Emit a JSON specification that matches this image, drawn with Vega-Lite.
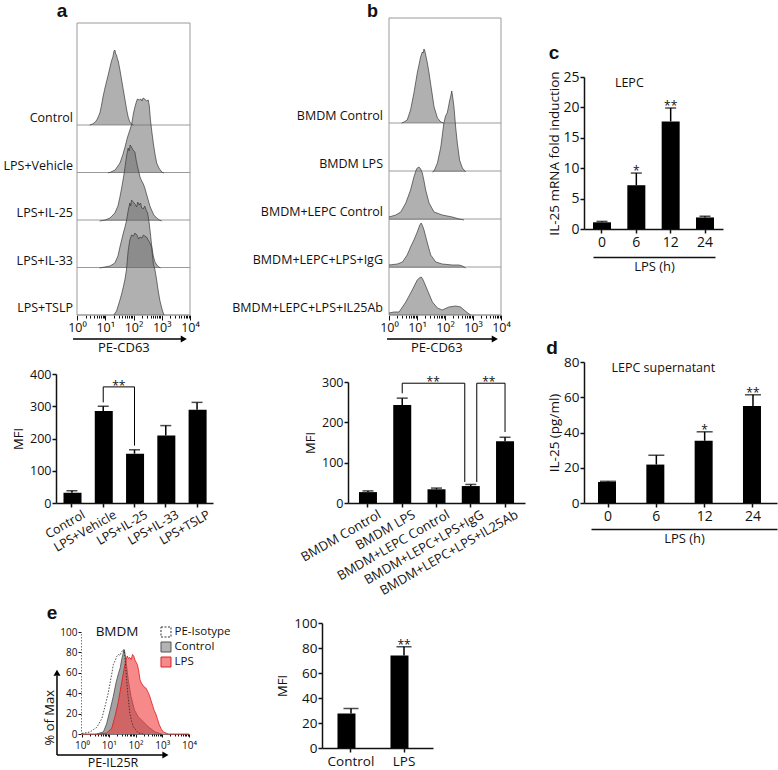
{
"$schema": "https://vega.github.io/schema/vega-lite/v6.json",
"width": 778, "height": 770, "autosize": {"type": "none"}, "padding": 0, "background": "white",
"config": {"view": {"stroke": null}, "font": "Open Sans",
  "axis": {"grid": false, "labelFont": "Open Sans", "titleFont": "Open Sans", "titleFontWeight": "normal", "labelColor": "#111", "titleColor": "#111", "domainColor": "#111", "tickColor": "#111"},
  "text": {"font": "Open Sans", "color": "#111"}},
"resolve": {"scale": {"x": "independent", "y": "independent"}},
"datasets": {
 "samplesA": [{"s":"Control"},{"s":"LPS+Vehicle"},{"s":"LPS+IL-25"},{"s":"LPS+IL-33"},{"s":"LPS+TSLP"}],
 "samplesB": [{"s":"BMDM Control"},{"s":"BMDM LPS"},{"s":"BMDM+LEPC Control"},{"s":"BMDM+LEPC+LPS+IgG"},{"s":"BMDM+LEPC+LPS+IL25Ab"}],
 "histA": [
  {"s":"Control","l":0.45,"c":0},{"s":"Control","l":0.55,"c":1},{"s":"Control","l":0.65,"c":3},{"s":"Control","l":0.72,"c":6},{"s":"Control","l":0.81,"c":12},{"s":"Control","l":0.87,"c":20},{"s":"Control","l":0.92,"c":28},{"s":"Control","l":0.99,"c":37},{"s":"Control","l":1.06,"c":45},{"s":"Control","l":1.12,"c":52},{"s":"Control","l":1.17,"c":58},{"s":"Control","l":1.22,"c":64},{"s":"Control","l":1.27,"c":68},{"s":"Control","l":1.31,"c":74},{"s":"Control","l":1.34,"c":75},{"s":"Control","l":1.37,"c":71},{"s":"Control","l":1.40,"c":70},{"s":"Control","l":1.43,"c":66},{"s":"Control","l":1.46,"c":64},{"s":"Control","l":1.52,"c":55},{"s":"Control","l":1.58,"c":45},{"s":"Control","l":1.64,"c":35},{"s":"Control","l":1.70,"c":25},{"s":"Control","l":1.76,"c":15},{"s":"Control","l":1.81,"c":8},{"s":"Control","l":1.87,"c":3},{"s":"Control","l":1.93,"c":1},{"s":"Control","l":2.0,"c":0},
  {"s":"LPS+Vehicle","l":1.1,"c":0},{"s":"LPS+Vehicle","l":1.2,"c":1},{"s":"LPS+Vehicle","l":1.35,"c":3},{"s":"LPS+Vehicle","l":1.52,"c":10},{"s":"LPS+Vehicle","l":1.62,"c":18},{"s":"LPS+Vehicle","l":1.7,"c":26},{"s":"LPS+Vehicle","l":1.78,"c":35},{"s":"LPS+Vehicle","l":1.86,"c":42},{"s":"LPS+Vehicle","l":1.93,"c":48},{"s":"LPS+Vehicle","l":2.0,"c":60},{"s":"LPS+Vehicle","l":2.05,"c":66},{"s":"LPS+Vehicle","l":2.1,"c":71},{"s":"LPS+Vehicle","l":2.14,"c":74},{"s":"LPS+Vehicle","l":2.2,"c":73},{"s":"LPS+Vehicle","l":2.26,"c":74},{"s":"LPS+Vehicle","l":2.3,"c":72},{"s":"LPS+Vehicle","l":2.34,"c":75},{"s":"LPS+Vehicle","l":2.4,"c":74},{"s":"LPS+Vehicle","l":2.46,"c":72},{"s":"LPS+Vehicle","l":2.52,"c":73},{"s":"LPS+Vehicle","l":2.56,"c":67},{"s":"LPS+Vehicle","l":2.6,"c":53},{"s":"LPS+Vehicle","l":2.65,"c":41},{"s":"LPS+Vehicle","l":2.7,"c":30},{"s":"LPS+Vehicle","l":2.76,"c":19},{"s":"LPS+Vehicle","l":2.82,"c":10},{"s":"LPS+Vehicle","l":2.9,"c":5},{"s":"LPS+Vehicle","l":3.0,"c":1},{"s":"LPS+Vehicle","l":3.08,"c":0},
  {"s":"LPS+IL-25","l":0.8,"c":0},{"s":"LPS+IL-25","l":1.0,"c":1},{"s":"LPS+IL-25","l":1.17,"c":3},{"s":"LPS+IL-25","l":1.34,"c":8},{"s":"LPS+IL-25","l":1.45,"c":15},{"s":"LPS+IL-25","l":1.52,"c":24},{"s":"LPS+IL-25","l":1.6,"c":36},{"s":"LPS+IL-25","l":1.66,"c":46},{"s":"LPS+IL-25","l":1.72,"c":58},{"s":"LPS+IL-25","l":1.76,"c":66},{"s":"LPS+IL-25","l":1.81,"c":73},{"s":"LPS+IL-25","l":1.85,"c":70},{"s":"LPS+IL-25","l":1.88,"c":76},{"s":"LPS+IL-25","l":1.93,"c":74},{"s":"LPS+IL-25","l":1.98,"c":71},{"s":"LPS+IL-25","l":2.05,"c":69},{"s":"LPS+IL-25","l":2.1,"c":60},{"s":"LPS+IL-25","l":2.17,"c":51},{"s":"LPS+IL-25","l":2.23,"c":44},{"s":"LPS+IL-25","l":2.29,"c":40},{"s":"LPS+IL-25","l":2.35,"c":37},{"s":"LPS+IL-25","l":2.4,"c":33},{"s":"LPS+IL-25","l":2.46,"c":27},{"s":"LPS+IL-25","l":2.52,"c":21},{"s":"LPS+IL-25","l":2.58,"c":15},{"s":"LPS+IL-25","l":2.64,"c":11},{"s":"LPS+IL-25","l":2.72,"c":6},{"s":"LPS+IL-25","l":2.82,"c":3},{"s":"LPS+IL-25","l":2.92,"c":1},{"s":"LPS+IL-25","l":3.0,"c":0},
  {"s":"LPS+IL-33","l":0.8,"c":0},{"s":"LPS+IL-33","l":1.17,"c":2},{"s":"LPS+IL-33","l":1.34,"c":5},{"s":"LPS+IL-33","l":1.45,"c":12},{"s":"LPS+IL-33","l":1.52,"c":21},{"s":"LPS+IL-33","l":1.58,"c":28},{"s":"LPS+IL-33","l":1.64,"c":35},{"s":"LPS+IL-33","l":1.7,"c":41},{"s":"LPS+IL-33","l":1.75,"c":47},{"s":"LPS+IL-33","l":1.81,"c":57},{"s":"LPS+IL-33","l":1.87,"c":65},{"s":"LPS+IL-33","l":1.9,"c":62},{"s":"LPS+IL-33","l":1.93,"c":68},{"s":"LPS+IL-33","l":1.99,"c":66},{"s":"LPS+IL-33","l":2.05,"c":64},{"s":"LPS+IL-33","l":2.11,"c":61},{"s":"LPS+IL-33","l":2.15,"c":66},{"s":"LPS+IL-33","l":2.2,"c":63},{"s":"LPS+IL-33","l":2.25,"c":65},{"s":"LPS+IL-33","l":2.29,"c":60},{"s":"LPS+IL-33","l":2.34,"c":59},{"s":"LPS+IL-33","l":2.4,"c":62},{"s":"LPS+IL-33","l":2.46,"c":57},{"s":"LPS+IL-33","l":2.5,"c":55},{"s":"LPS+IL-33","l":2.55,"c":46},{"s":"LPS+IL-33","l":2.6,"c":34},{"s":"LPS+IL-33","l":2.64,"c":23},{"s":"LPS+IL-33","l":2.7,"c":12},{"s":"LPS+IL-33","l":2.76,"c":6},{"s":"LPS+IL-33","l":2.85,"c":2},{"s":"LPS+IL-33","l":2.95,"c":0},
  {"s":"LPS+TSLP","l":1.3,"c":0},{"s":"LPS+TSLP","l":1.4,"c":4},{"s":"LPS+TSLP","l":1.52,"c":15},{"s":"LPS+TSLP","l":1.58,"c":21},{"s":"LPS+TSLP","l":1.64,"c":28},{"s":"LPS+TSLP","l":1.7,"c":36},{"s":"LPS+TSLP","l":1.75,"c":45},{"s":"LPS+TSLP","l":1.81,"c":64},{"s":"LPS+TSLP","l":1.87,"c":75},{"s":"LPS+TSLP","l":1.93,"c":80},{"s":"LPS+TSLP","l":2.0,"c":79},{"s":"LPS+TSLP","l":2.05,"c":82},{"s":"LPS+TSLP","l":2.12,"c":80},{"s":"LPS+TSLP","l":2.18,"c":76},{"s":"LPS+TSLP","l":2.23,"c":78},{"s":"LPS+TSLP","l":2.3,"c":77},{"s":"LPS+TSLP","l":2.35,"c":80},{"s":"LPS+TSLP","l":2.4,"c":79},{"s":"LPS+TSLP","l":2.46,"c":78},{"s":"LPS+TSLP","l":2.52,"c":75},{"s":"LPS+TSLP","l":2.58,"c":72},{"s":"LPS+TSLP","l":2.64,"c":68},{"s":"LPS+TSLP","l":2.7,"c":52},{"s":"LPS+TSLP","l":2.76,"c":45},{"s":"LPS+TSLP","l":2.82,"c":35},{"s":"LPS+TSLP","l":2.87,"c":25},{"s":"LPS+TSLP","l":2.93,"c":15},{"s":"LPS+TSLP","l":2.99,"c":8},{"s":"LPS+TSLP","l":3.04,"c":3},{"s":"LPS+TSLP","l":3.08,"c":0}
 ],
 "histB": [
  {"s":"BMDM Control","l":0.45,"c":0},{"s":"BMDM Control","l":0.54,"c":1},{"s":"BMDM Control","l":0.65,"c":3},{"s":"BMDM Control","l":0.77,"c":13},{"s":"BMDM Control","l":0.89,"c":30},{"s":"BMDM Control","l":1.01,"c":50},{"s":"BMDM Control","l":1.07,"c":58},{"s":"BMDM Control","l":1.13,"c":66},{"s":"BMDM Control","l":1.19,"c":71},{"s":"BMDM Control","l":1.22,"c":70},{"s":"BMDM Control","l":1.25,"c":74},{"s":"BMDM Control","l":1.28,"c":72},{"s":"BMDM Control","l":1.31,"c":68},{"s":"BMDM Control","l":1.37,"c":60},{"s":"BMDM Control","l":1.43,"c":50},{"s":"BMDM Control","l":1.52,"c":33},{"s":"BMDM Control","l":1.61,"c":16},{"s":"BMDM Control","l":1.73,"c":5},{"s":"BMDM Control","l":1.85,"c":1},{"s":"BMDM Control","l":1.95,"c":0},
  {"s":"BMDM LPS","l":1.55,"c":0},{"s":"BMDM LPS","l":1.61,"c":1},{"s":"BMDM LPS","l":1.73,"c":9},{"s":"BMDM LPS","l":1.85,"c":25},{"s":"BMDM LPS","l":1.96,"c":49},{"s":"BMDM LPS","l":2.02,"c":56},{"s":"BMDM LPS","l":2.08,"c":59},{"s":"BMDM LPS","l":2.13,"c":66},{"s":"BMDM LPS","l":2.17,"c":72},{"s":"BMDM LPS","l":2.2,"c":75},{"s":"BMDM LPS","l":2.24,"c":81},{"s":"BMDM LPS","l":2.27,"c":76},{"s":"BMDM LPS","l":2.32,"c":65},{"s":"BMDM LPS","l":2.38,"c":45},{"s":"BMDM LPS","l":2.44,"c":29},{"s":"BMDM LPS","l":2.52,"c":12},{"s":"BMDM LPS","l":2.62,"c":4},{"s":"BMDM LPS","l":2.74,"c":0},
  {"s":"BMDM+LEPC Control","l":0,"c":3},{"s":"BMDM+LEPC Control","l":0.24,"c":5},{"s":"BMDM+LEPC Control","l":0.42,"c":8},{"s":"BMDM+LEPC Control","l":0.6,"c":17},{"s":"BMDM+LEPC Control","l":0.77,"c":30},{"s":"BMDM+LEPC Control","l":0.89,"c":43},{"s":"BMDM+LEPC Control","l":0.97,"c":50},{"s":"BMDM+LEPC Control","l":1.01,"c":52},{"s":"BMDM+LEPC Control","l":1.07,"c":53},{"s":"BMDM+LEPC Control","l":1.13,"c":51},{"s":"BMDM+LEPC Control","l":1.19,"c":47},{"s":"BMDM+LEPC Control","l":1.25,"c":39},{"s":"BMDM+LEPC Control","l":1.31,"c":30},{"s":"BMDM+LEPC Control","l":1.43,"c":17},{"s":"BMDM+LEPC Control","l":1.61,"c":8},{"s":"BMDM+LEPC Control","l":1.9,"c":5},{"s":"BMDM+LEPC Control","l":2.26,"c":3},{"s":"BMDM+LEPC Control","l":2.5,"c":1},{"s":"BMDM+LEPC Control","l":2.68,"c":0},
  {"s":"BMDM+LEPC+LPS+IgG","l":0,"c":3},{"s":"BMDM+LEPC+LPS+IgG","l":0.3,"c":4},{"s":"BMDM+LEPC+LPS+IgG","l":0.48,"c":6},{"s":"BMDM+LEPC+LPS+IgG","l":0.65,"c":13},{"s":"BMDM+LEPC+LPS+IgG","l":0.77,"c":21},{"s":"BMDM+LEPC+LPS+IgG","l":0.89,"c":28},{"s":"BMDM+LEPC+LPS+IgG","l":1.01,"c":36},{"s":"BMDM+LEPC+LPS+IgG","l":1.1,"c":43},{"s":"BMDM+LEPC+LPS+IgG","l":1.15,"c":45},{"s":"BMDM+LEPC+LPS+IgG","l":1.2,"c":42},{"s":"BMDM+LEPC+LPS+IgG","l":1.25,"c":38},{"s":"BMDM+LEPC+LPS+IgG","l":1.37,"c":25},{"s":"BMDM+LEPC+LPS+IgG","l":1.49,"c":13},{"s":"BMDM+LEPC+LPS+IgG","l":1.67,"c":6},{"s":"BMDM+LEPC+LPS+IgG","l":1.9,"c":4},{"s":"BMDM+LEPC+LPS+IgG","l":2.26,"c":3},{"s":"BMDM+LEPC+LPS+IgG","l":2.5,"c":3},{"s":"BMDM+LEPC+LPS+IgG","l":2.62,"c":2},{"s":"BMDM+LEPC+LPS+IgG","l":2.74,"c":0},
  {"s":"BMDM+LEPC+LPS+IL25Ab","l":0,"c":2},{"s":"BMDM+LEPC+LPS+IL25Ab","l":0.18,"c":3},{"s":"BMDM+LEPC+LPS+IL25Ab","l":0.36,"c":3},{"s":"BMDM+LEPC+LPS+IL25Ab","l":0.6,"c":13},{"s":"BMDM+LEPC+LPS+IL25Ab","l":0.83,"c":25},{"s":"BMDM+LEPC+LPS+IL25Ab","l":1.01,"c":35},{"s":"BMDM+LEPC+LPS+IL25Ab","l":1.08,"c":37},{"s":"BMDM+LEPC+LPS+IL25Ab","l":1.15,"c":38},{"s":"BMDM+LEPC+LPS+IL25Ab","l":1.2,"c":36},{"s":"BMDM+LEPC+LPS+IL25Ab","l":1.25,"c":33},{"s":"BMDM+LEPC+LPS+IL25Ab","l":1.37,"c":25},{"s":"BMDM+LEPC+LPS+IL25Ab","l":1.55,"c":13},{"s":"BMDM+LEPC+LPS+IL25Ab","l":1.73,"c":7},{"s":"BMDM+LEPC+LPS+IL25Ab","l":1.9,"c":5},{"s":"BMDM+LEPC+LPS+IL25Ab","l":2.14,"c":8},{"s":"BMDM+LEPC+LPS+IL25Ab","l":2.38,"c":9},{"s":"BMDM+LEPC+LPS+IL25Ab","l":2.56,"c":8},{"s":"BMDM+LEPC+LPS+IL25Ab","l":2.68,"c":5},{"s":"BMDM+LEPC+LPS+IL25Ab","l":2.86,"c":1},{"s":"BMDM+LEPC+LPS+IL25Ab","l":2.92,"c":0}
 ],
 "histE": [
  {"s":"PE-Isotype","l":0,"c":0.5},{"s":"PE-Isotype","l":0.3,"c":2},{"s":"PE-Isotype","l":0.55,"c":6.5},{"s":"PE-Isotype","l":0.74,"c":15},{"s":"PE-Isotype","l":0.86,"c":27},{"s":"PE-Isotype","l":0.98,"c":40},{"s":"PE-Isotype","l":1.07,"c":53},{"s":"PE-Isotype","l":1.12,"c":60},{"s":"PE-Isotype","l":1.17,"c":68},{"s":"PE-Isotype","l":1.24,"c":72},{"s":"PE-Isotype","l":1.3,"c":76},{"s":"PE-Isotype","l":1.36,"c":78},{"s":"PE-Isotype","l":1.42,"c":77},{"s":"PE-Isotype","l":1.47,"c":80},{"s":"PE-Isotype","l":1.52,"c":82},{"s":"PE-Isotype","l":1.56,"c":81},{"s":"PE-Isotype","l":1.58,"c":82},{"s":"PE-Isotype","l":1.64,"c":63},{"s":"PE-Isotype","l":1.71,"c":40},{"s":"PE-Isotype","l":1.79,"c":20},{"s":"PE-Isotype","l":1.86,"c":12},{"s":"PE-Isotype","l":1.92,"c":7},{"s":"PE-Isotype","l":2.1,"c":1},{"s":"PE-Isotype","l":2.3,"c":0},
  {"s":"Control","l":0.55,"c":0},{"s":"Control","l":0.8,"c":2},{"s":"Control","l":0.92,"c":10},{"s":"Control","l":1.05,"c":23.5},{"s":"Control","l":1.17,"c":37},{"s":"Control","l":1.27,"c":50},{"s":"Control","l":1.37,"c":60},{"s":"Control","l":1.43,"c":65},{"s":"Control","l":1.48,"c":72.5},{"s":"Control","l":1.53,"c":78},{"s":"Control","l":1.57,"c":83},{"s":"Control","l":1.6,"c":80},{"s":"Control","l":1.64,"c":72.5},{"s":"Control","l":1.73,"c":53},{"s":"Control","l":1.83,"c":37},{"s":"Control","l":1.96,"c":23.5},{"s":"Control","l":2.1,"c":17},{"s":"Control","l":2.29,"c":12},{"s":"Control","l":2.48,"c":7},{"s":"Control","l":2.73,"c":2},{"s":"Control","l":2.98,"c":0},
  {"s":"LPS","l":0,"c":0},{"s":"LPS","l":0.67,"c":0},{"s":"LPS","l":0.92,"c":1},{"s":"LPS","l":1.11,"c":5.5},{"s":"LPS","l":1.23,"c":17},{"s":"LPS","l":1.36,"c":32},{"s":"LPS","l":1.48,"c":50},{"s":"LPS","l":1.61,"c":69},{"s":"LPS","l":1.69,"c":76.5},{"s":"LPS","l":1.74,"c":74},{"s":"LPS","l":1.79,"c":75},{"s":"LPS","l":1.84,"c":73},{"s":"LPS","l":1.89,"c":78},{"s":"LPS","l":1.94,"c":76},{"s":"LPS","l":1.98,"c":72.5},{"s":"LPS","l":2.07,"c":68},{"s":"LPS","l":2.12,"c":62},{"s":"LPS","l":2.17,"c":53},{"s":"LPS","l":2.22,"c":50},{"s":"LPS","l":2.27,"c":48},{"s":"LPS","l":2.33,"c":46},{"s":"LPS","l":2.39,"c":45},{"s":"LPS","l":2.45,"c":42},{"s":"LPS","l":2.52,"c":38},{"s":"LPS","l":2.58,"c":33},{"s":"LPS","l":2.64,"c":28},{"s":"LPS","l":2.7,"c":23},{"s":"LPS","l":2.77,"c":19},{"s":"LPS","l":2.83,"c":14},{"s":"LPS","l":2.89,"c":9},{"s":"LPS","l":2.96,"c":5},{"s":"LPS","l":3.04,"c":2},{"s":"LPS","l":3.23,"c":0},{"s":"LPS","l":4,"c":0}
 ],
 "legE": [{"s":"PE-Isotype"},{"s":"Control"},{"s":"LPS"}],
 "barsA": [{"g":"Control","m":32,"hi":38},{"g":"LPS+Vehicle","m":285,"hi":300},{"g":"LPS+IL-25","m":153,"hi":165},{"g":"LPS+IL-33","m":209,"hi":240},{"g":"LPS+TSLP","m":289,"hi":312}],
 "barsB": [{"g":"BMDM Control","m":27,"hi":30},{"g":"BMDM LPS","m":243,"hi":260},{"g":"BMDM+LEPC Control","m":34,"hi":37},{"g":"BMDM+LEPC+LPS+IgG","m":42,"hi":46},{"g":"BMDM+LEPC+LPS+IL25Ab","m":153,"hi":163}],
 "barsC": [{"g":"0","m":1.1,"hi":1.25,"sig":""},{"g":"6","m":7.2,"hi":9.2,"sig":"*"},{"g":"12","m":17.7,"hi":19.9,"sig":"**"},{"g":"24","m":1.9,"hi":2.1,"sig":""}],
 "barsD": [{"g":"0","m":11.9,"hi":12.3,"sig":""},{"g":"6","m":21.8,"hi":27.1,"sig":""},{"g":"12","m":35.3,"hi":40.4,"sig":"*"},{"g":"24","m":55,"hi":61.4,"sig":"**"}],
 "barsE": [{"g":"Control","m":27.6,"hi":31.6,"sig":""},{"g":"LPS","m":74,"hi":81,"sig":"**"}],
 "brA": [{"k":1,"g":"LPS+Vehicle","v":312},{"k":2,"g":"LPS+Vehicle","v":360},{"k":3,"g":"LPS+IL-25","v":360},{"k":4,"g":"LPS+IL-25","v":178}],
 "brB": [{"br":1,"k":1,"g":"BMDM LPS","side":"c","v":272},{"br":1,"k":2,"g":"BMDM LPS","side":"c","v":297},{"br":1,"k":3,"g":"BMDM+LEPC+LPS+IgG","side":"l","v":297},{"br":1,"k":4,"g":"BMDM+LEPC+LPS+IgG","side":"l","v":52},
         {"br":2,"k":1,"g":"BMDM+LEPC+LPS+IgG","side":"r","v":52},{"br":2,"k":2,"g":"BMDM+LEPC+LPS+IgG","side":"r","v":297},{"br":2,"k":3,"g":"BMDM+LEPC+LPS+IL25Ab","side":"c","v":297},{"br":2,"k":4,"g":"BMDM+LEPC+LPS+IL25Ab","side":"c","v":176}]
},
"layer": [
 {"data": {"values": [{"k":1}]}, "mark": {"type":"rect","fill":"transparent","stroke":"#9a9a9a","strokeWidth":1},
  "encoding": {
   "x": {"datum":0,"type":"quantitative","scale":{"domain":[0,4],"range":[77,190],"nice":false,"zero":false},
     "axis":{"orient":"bottom","offset":-455,"values":[0,1,2,3,4],"labelExpr":"['10⁰','10¹','10²','10³','10⁴'][datum.value]","tickSize":5,"domain":false,"labelFontSize":12.5,"labelPadding":1,"labelFlush":false,"labelOverlap":false,"title":null}},
   "x2": {"datum":4},
   "y": {"datum":0,"type":"quantitative","scale":{"domain":[0,1],"range":[315,23],"nice":false,"zero":false},"axis":null},
   "y2": {"datum":1}}},
 {"data": {"name":"samplesA"}, "mark": {"type":"rule","color":"#9a9a9a","strokeWidth":1},
  "encoding": {"x": {"datum":0,"type":"quantitative","scale":{"domain":[0,4],"range":[77,190],"nice":false,"zero":false},"axis":null},"x2":{"datum":4},
   "y": {"field":"s","type":"nominal","scale":{"type":"point","domain":["Control","LPS+Vehicle","LPS+IL-25","LPS+IL-33","LPS+TSLP"],"range":[125,315],"padding":0},"axis":null}}},
 {"data": {"name":"samplesA"}, "mark": {"type":"text","align":"right","baseline":"alphabetic","dx":-4,"dy":-3,"fontSize":12.5},
  "encoding": {"x": {"datum":0,"type":"quantitative","scale":{"domain":[0,4],"range":[77,190],"nice":false,"zero":false},"axis":null},
   "y": {"field":"s","type":"nominal","scale":{"type":"point","domain":["Control","LPS+Vehicle","LPS+IL-25","LPS+IL-33","LPS+TSLP"],"range":[125,315],"padding":0},"axis":null},
   "text": {"field":"s"}}},
 {"data": {"values": [{"k":1}]}, "mark": {"type":"rule","color":"black","strokeWidth":1.5},
  "encoding": {
   "x": {"datum":-0.14,"type":"quantitative","scale":{"domain":[0,4],"range":[77,190],"nice":false,"zero":false},
     "axis":{"orient":"bottom","offset":-455,"values":[0.301,0.477,0.602,0.699,0.778,0.845,0.903,0.954,1.301,1.477,1.602,1.699,1.778,1.845,1.903,1.954,2.301,2.477,2.602,2.699,2.778,2.845,2.903,2.954,3.301,3.477,3.602,3.699,3.778,3.845,3.903,3.954],"labels":false,"tickSize":3,"domain":false,"title":null}},
   "x2": {"datum":3.72},
   "y": {"datum":-0.082,"type":"quantitative","scale":{"domain":[0,1],"range":[315,23],"nice":false,"zero":false},"axis":null}}},
 {"data": {"values": [{"k":1}]}, "mark": {"type":"point","shape":"triangle-right","filled":true,"color":"black","size":50,"opacity":1},
  "encoding": {"x": {"datum":3.78,"type":"quantitative","scale":{"domain":[0,4],"range":[77,190],"nice":false,"zero":false},"axis":null},
   "y": {"datum":-0.082,"type":"quantitative","scale":{"domain":[0,1],"range":[315,23],"nice":false,"zero":false},"axis":null}}},
 {"data": {"values": [{"t":"PE-CD63"}]}, "mark": {"type":"text","fontSize":13,"align":"center","baseline":"middle"},
  "encoding": {"x": {"datum":1.66,"type":"quantitative","scale":{"domain":[0,4],"range":[77,190],"nice":false,"zero":false},"axis":null},
   "y": {"datum":-0.113,"type":"quantitative","scale":{"domain":[0,1],"range":[315,23],"nice":false,"zero":false},"axis":null},"text":{"field":"t"}}},
 {"data": {"values": [{"t":"a"}]}, "mark": {"type":"text","font":"Liberation Sans","fontWeight":"bold","fontSize":19,"align":"center","baseline":"alphabetic"},
  "encoding": {"x": {"datum":-0.53,"type":"quantitative","scale":{"domain":[0,4],"range":[77,190],"nice":false,"zero":false},"axis":null},
   "y": {"datum":1.022,"type":"quantitative","scale":{"domain":[0,1],"range":[315,23],"nice":false,"zero":false},"axis":null},"text":{"field":"t"}}},
 {"data": {"name":"histA"}, "transform":[{"filter":"datum.s === 'Control'"}], "mark": {"type":"area","fill":"#707070","fillOpacity":0.55,"line":{"color":"#3a3a3a","strokeWidth":0.7}},
  "encoding": {"x": {"field":"l","type":"quantitative","scale":{"domain":[0,4],"range":[77,190],"nice":false,"zero":false},"axis":null},
   "y": {"field":"c","type":"quantitative","scale":{"domain":[0,100],"range":[125,25],"nice":false,"zero":false},"axis":null}}},
 {"data": {"name":"histA"}, "transform":[{"filter":"datum.s === 'LPS+Vehicle'"}], "mark": {"type":"area","fill":"#707070","fillOpacity":0.55,"line":{"color":"#3a3a3a","strokeWidth":0.7}},
  "encoding": {"x": {"field":"l","type":"quantitative","scale":{"domain":[0,4],"range":[77,190],"nice":false,"zero":false},"axis":null},
   "y": {"field":"c","type":"quantitative","scale":{"domain":[0,100],"range":[173,73],"nice":false,"zero":false},"axis":null}}},
 {"data": {"name":"histA"}, "transform":[{"filter":"datum.s === 'LPS+IL-25'"}], "mark": {"type":"area","fill":"#707070","fillOpacity":0.55,"line":{"color":"#3a3a3a","strokeWidth":0.7}},
  "encoding": {"x": {"field":"l","type":"quantitative","scale":{"domain":[0,4],"range":[77,190],"nice":false,"zero":false},"axis":null},
   "y": {"field":"c","type":"quantitative","scale":{"domain":[0,100],"range":[221,121],"nice":false,"zero":false},"axis":null}}},
 {"data": {"name":"histA"}, "transform":[{"filter":"datum.s === 'LPS+IL-33'"}], "mark": {"type":"area","fill":"#707070","fillOpacity":0.55,"line":{"color":"#3a3a3a","strokeWidth":0.7}},
  "encoding": {"x": {"field":"l","type":"quantitative","scale":{"domain":[0,4],"range":[77,190],"nice":false,"zero":false},"axis":null},
   "y": {"field":"c","type":"quantitative","scale":{"domain":[0,100],"range":[268,168],"nice":false,"zero":false},"axis":null}}},
 {"data": {"name":"histA"}, "transform":[{"filter":"datum.s === 'LPS+TSLP'"}], "mark": {"type":"area","fill":"#707070","fillOpacity":0.55,"line":{"color":"#3a3a3a","strokeWidth":0.7}},
  "encoding": {"x": {"field":"l","type":"quantitative","scale":{"domain":[0,4],"range":[77,190],"nice":false,"zero":false},"axis":null},
   "y": {"field":"c","type":"quantitative","scale":{"domain":[0,100],"range":[315,215],"nice":false,"zero":false},"axis":null}}},

 {"data": {"values": [{"k":1}]}, "mark": {"type":"rect","fill":"transparent","stroke":"#9a9a9a","strokeWidth":1},
  "encoding": {
   "x": {"datum":0,"type":"quantitative","scale":{"domain":[0,4],"range":[389,501],"nice":false,"zero":false},
     "axis":{"orient":"bottom","offset":-455,"values":[0,1,2,3,4],"labelExpr":"['10⁰','10¹','10²','10³','10⁴'][datum.value]","tickSize":5,"domain":false,"labelFontSize":12.5,"labelPadding":1,"labelFlush":false,"labelOverlap":false,"title":null}},
   "x2": {"datum":4},
   "y": {"datum":0,"type":"quantitative","scale":{"domain":[0,1],"range":[315,18],"nice":false,"zero":false},"axis":null},
   "y2": {"datum":1}}},
 {"data": {"name":"samplesB"}, "mark": {"type":"rule","color":"#9a9a9a","strokeWidth":1},
  "encoding": {"x": {"datum":0,"type":"quantitative","scale":{"domain":[0,4],"range":[389,501],"nice":false,"zero":false},"axis":null},"x2":{"datum":4},
   "y": {"field":"s","type":"nominal","scale":{"type":"point","domain":["BMDM Control","BMDM LPS","BMDM+LEPC Control","BMDM+LEPC+LPS+IgG","BMDM+LEPC+LPS+IL25Ab"],"range":[123,315],"padding":0},"axis":null}}},
 {"data": {"name":"samplesB"}, "mark": {"type":"text","align":"right","baseline":"alphabetic","dx":-6,"dy":-3,"fontSize":12.5},
  "encoding": {"x": {"datum":0,"type":"quantitative","scale":{"domain":[0,4],"range":[389,501],"nice":false,"zero":false},"axis":null},
   "y": {"field":"s","type":"nominal","scale":{"type":"point","domain":["BMDM Control","BMDM LPS","BMDM+LEPC Control","BMDM+LEPC+LPS+IgG","BMDM+LEPC+LPS+IL25Ab"],"range":[123,315],"padding":0},"axis":null},
   "text": {"field":"s"}}},
 {"data": {"values": [{"k":1}]}, "mark": {"type":"rule","color":"black","strokeWidth":1.5},
  "encoding": {
   "x": {"datum":-0.07,"type":"quantitative","scale":{"domain":[0,4],"range":[389,501],"nice":false,"zero":false},
     "axis":{"orient":"bottom","offset":-455,"values":[0.301,0.477,0.602,0.699,0.778,0.845,0.903,0.954,1.301,1.477,1.602,1.699,1.778,1.845,1.903,1.954,2.301,2.477,2.602,2.699,2.778,2.845,2.903,2.954,3.301,3.477,3.602,3.699,3.778,3.845,3.903,3.954],"labels":false,"tickSize":3,"domain":false,"title":null}},
   "x2": {"datum":3.72},
   "y": {"datum":-0.081,"type":"quantitative","scale":{"domain":[0,1],"range":[315,18],"nice":false,"zero":false},"axis":null}}},
 {"data": {"values": [{"k":1}]}, "mark": {"type":"point","shape":"triangle-right","filled":true,"color":"black","size":50,"opacity":1},
  "encoding": {"x": {"datum":3.78,"type":"quantitative","scale":{"domain":[0,4],"range":[389,501],"nice":false,"zero":false},"axis":null},
   "y": {"datum":-0.081,"type":"quantitative","scale":{"domain":[0,1],"range":[315,18],"nice":false,"zero":false},"axis":null}}},
 {"data": {"values": [{"t":"PE-CD63"}]}, "mark": {"type":"text","fontSize":13,"align":"center","baseline":"middle"},
  "encoding": {"x": {"datum":1.71,"type":"quantitative","scale":{"domain":[0,4],"range":[389,501],"nice":false,"zero":false},"axis":null},
   "y": {"datum":-0.111,"type":"quantitative","scale":{"domain":[0,1],"range":[315,18],"nice":false,"zero":false},"axis":null},"text":{"field":"t"}}},
 {"data": {"values": [{"t":"b"}]}, "mark": {"type":"text","font":"Liberation Sans","fontWeight":"bold","fontSize":18,"align":"center","baseline":"alphabetic"},
  "encoding": {"x": {"datum":-0.59,"type":"quantitative","scale":{"domain":[0,4],"range":[389,501],"nice":false,"zero":false},"axis":null},
   "y": {"datum":1.004,"type":"quantitative","scale":{"domain":[0,1],"range":[315,18],"nice":false,"zero":false},"axis":null},"text":{"field":"t"}}},
 {"data": {"name":"histB"}, "transform":[{"filter":"datum.s === 'BMDM Control'"}], "mark": {"type":"area","fill":"#707070","fillOpacity":0.55,"line":{"color":"#3a3a3a","strokeWidth":0.7}},
  "encoding": {"x": {"field":"l","type":"quantitative","scale":{"domain":[0,4],"range":[389,501],"nice":false,"zero":false},"axis":null},
   "y": {"field":"c","type":"quantitative","scale":{"domain":[0,100],"range":[123,23],"nice":false,"zero":false},"axis":null}}},
 {"data": {"name":"histB"}, "transform":[{"filter":"datum.s === 'BMDM LPS'"}], "mark": {"type":"area","fill":"#707070","fillOpacity":0.55,"line":{"color":"#3a3a3a","strokeWidth":0.7}},
  "encoding": {"x": {"field":"l","type":"quantitative","scale":{"domain":[0,4],"range":[389,501],"nice":false,"zero":false},"axis":null},
   "y": {"field":"c","type":"quantitative","scale":{"domain":[0,100],"range":[172,72],"nice":false,"zero":false},"axis":null}}},
 {"data": {"name":"histB"}, "transform":[{"filter":"datum.s === 'BMDM+LEPC Control'"}], "mark": {"type":"area","fill":"#707070","fillOpacity":0.55,"line":{"color":"#3a3a3a","strokeWidth":0.7}},
  "encoding": {"x": {"field":"l","type":"quantitative","scale":{"domain":[0,4],"range":[389,501],"nice":false,"zero":false},"axis":null},
   "y": {"field":"c","type":"quantitative","scale":{"domain":[0,100],"range":[220,120],"nice":false,"zero":false},"axis":null}}},
 {"data": {"name":"histB"}, "transform":[{"filter":"datum.s === 'BMDM+LEPC+LPS+IgG'"}], "mark": {"type":"area","fill":"#707070","fillOpacity":0.55,"line":{"color":"#3a3a3a","strokeWidth":0.7}},
  "encoding": {"x": {"field":"l","type":"quantitative","scale":{"domain":[0,4],"range":[389,501],"nice":false,"zero":false},"axis":null},
   "y": {"field":"c","type":"quantitative","scale":{"domain":[0,100],"range":[268,168],"nice":false,"zero":false},"axis":null}}},
 {"data": {"name":"histB"}, "transform":[{"filter":"datum.s === 'BMDM+LEPC+LPS+IL25Ab'"}], "mark": {"type":"area","fill":"#707070","fillOpacity":0.55,"line":{"color":"#3a3a3a","strokeWidth":0.7}},
  "encoding": {"x": {"field":"l","type":"quantitative","scale":{"domain":[0,4],"range":[389,501],"nice":false,"zero":false},"axis":null},
   "y": {"field":"c","type":"quantitative","scale":{"domain":[0,100],"range":[315,215],"nice":false,"zero":false},"axis":null}}},

 {"data": {"name":"barsA"}, "mark": {"type":"bar","color":"black"},
  "encoding": {
   "x": {"field":"g","type":"nominal","sort":null,"scale":{"type":"band","domain":["Control","LPS+Vehicle","LPS+IL-25","LPS+IL-33","LPS+TSLP"],"range":[56,213],"paddingInner":0.46,"paddingOuter":0.24},
     "axis":{"orient":"bottom","offset":-267,"labelAngle":-30,"labelAlign":"right","labelBaseline":"top","labelOffset":9,"labelFontSize":12.5,"labelPadding":1,"tickSize":4,"tickWidth":1.5,"domainWidth":1.5,"title":null}},
   "y": {"field":"m","type":"quantitative","scale":{"domain":[0,400],"range":[503,374],"nice":false,"zero":false},
     "axis":{"orient":"left","offset":-56,"values":[0,100,200,300,400],"tickSize":4,"tickWidth":1.5,"domainWidth":1.5,"labelFontSize":12.5,"labelPadding":1,"title":"MFI","titleFontSize":13,"titlePadding":4}}}},
 {"data": {"name":"barsA"}, "mark": {"type":"rule","color":"black","strokeWidth":1.5},
  "encoding": {"x": {"field":"g","type":"nominal","sort":null,"scale":{"type":"band","domain":["Control","LPS+Vehicle","LPS+IL-25","LPS+IL-33","LPS+TSLP"],"range":[56,213],"paddingInner":0.46,"paddingOuter":0.24},"axis":null},
   "y": {"field":"m","type":"quantitative","scale":{"domain":[0,400],"range":[503,374],"nice":false,"zero":false},"axis":null},"y2":{"field":"hi"}}},
 {"data": {"name":"barsA"}, "mark": {"type":"tick","color":"black","thickness":1.5,"size":11,"orient":"horizontal"},
  "encoding": {"x": {"field":"g","type":"nominal","sort":null,"scale":{"type":"band","domain":["Control","LPS+Vehicle","LPS+IL-25","LPS+IL-33","LPS+TSLP"],"range":[56,213],"paddingInner":0.46,"paddingOuter":0.24},"axis":null},
   "y": {"field":"hi","type":"quantitative","scale":{"domain":[0,400],"range":[503,374],"nice":false,"zero":false},"axis":null}}},
 {"data": {"name":"brA"}, "mark": {"type":"line","color":"black","strokeWidth":1},
  "encoding": {"x": {"field":"g","type":"nominal","sort":null,"scale":{"type":"band","domain":["Control","LPS+Vehicle","LPS+IL-25","LPS+IL-33","LPS+TSLP"],"range":[56,213],"paddingInner":0.46,"paddingOuter":0.24},"axis":null},
   "y": {"field":"v","type":"quantitative","scale":{"domain":[0,400],"range":[503,374],"nice":false,"zero":false},"axis":null},
   "order": {"field":"k","type":"quantitative"}}},
 {"data": {"values": [{"g":"LPS+Vehicle","v":360,"t":"**"}]}, "mark": {"type":"text","fontSize":12,"baseline":"alphabetic","dx":15.6,"dy":3},
  "encoding": {"x": {"field":"g","type":"nominal","sort":null,"scale":{"type":"band","domain":["Control","LPS+Vehicle","LPS+IL-25","LPS+IL-33","LPS+TSLP"],"range":[56,213],"paddingInner":0.46,"paddingOuter":0.24},"axis":null},
   "y": {"field":"v","type":"quantitative","scale":{"domain":[0,400],"range":[503,374],"nice":false,"zero":false},"axis":null},"text":{"field":"t"}}},

 {"data": {"name":"barsB"}, "mark": {"type":"bar","color":"black"},
  "encoding": {
   "x": {"field":"g","type":"nominal","sort":null,"scale":{"type":"band","domain":["BMDM Control","BMDM LPS","BMDM+LEPC Control","BMDM+LEPC+LPS+IgG","BMDM+LEPC+LPS+IL25Ab"],"range":[348,525],"paddingInner":0.475,"paddingOuter":0.32},
     "axis":{"orient":"bottom","offset":-267,"labelAngle":-30,"labelAlign":"right","labelBaseline":"top","labelOffset":9,"labelFontSize":13,"labelPadding":1,"tickSize":4,"tickWidth":1.5,"domainWidth":1.5,"title":null}},
   "y": {"field":"m","type":"quantitative","scale":{"domain":[0,300],"range":[503,382],"nice":false,"zero":false},
     "axis":{"orient":"left","offset":-348,"values":[0,100,200,300],"tickSize":4,"tickWidth":1.5,"domainWidth":1.5,"labelFontSize":12.5,"labelPadding":1,"title":"MFI","titleFontSize":13,"titlePadding":4}}}},
 {"data": {"name":"barsB"}, "mark": {"type":"rule","color":"black","strokeWidth":1.5},
  "encoding": {"x": {"field":"g","type":"nominal","sort":null,"scale":{"type":"band","domain":["BMDM Control","BMDM LPS","BMDM+LEPC Control","BMDM+LEPC+LPS+IgG","BMDM+LEPC+LPS+IL25Ab"],"range":[348,525],"paddingInner":0.475,"paddingOuter":0.32},"axis":null},
   "y": {"field":"m","type":"quantitative","scale":{"domain":[0,300],"range":[503,382],"nice":false,"zero":false},"axis":null},"y2":{"field":"hi"}}},
 {"data": {"name":"barsB"}, "mark": {"type":"tick","color":"black","thickness":1.5,"size":11,"orient":"horizontal"},
  "encoding": {"x": {"field":"g","type":"nominal","sort":null,"scale":{"type":"band","domain":["BMDM Control","BMDM LPS","BMDM+LEPC Control","BMDM+LEPC+LPS+IgG","BMDM+LEPC+LPS+IL25Ab"],"range":[348,525],"paddingInner":0.475,"paddingOuter":0.32},"axis":null},
   "y": {"field":"hi","type":"quantitative","scale":{"domain":[0,300],"range":[503,382],"nice":false,"zero":false},"axis":null}}},
 {"data": {"name":"brB"}, "mark": {"type":"line","color":"black","strokeWidth":1},
  "encoding": {"x": {"field":"g","type":"nominal","sort":null,"scale":{"type":"band","domain":["BMDM Control","BMDM LPS","BMDM+LEPC Control","BMDM+LEPC+LPS+IgG","BMDM+LEPC+LPS+IL25Ab"],"range":[348,525],"paddingInner":0.475,"paddingOuter":0.32},"axis":null},
   "xOffset": {"field":"side","type":"nominal","scale":{"domain":["l","c","r"],"paddingInner":0,"paddingOuter":0.5}},
   "y": {"field":"v","type":"quantitative","scale":{"domain":[0,300],"range":[503,382],"nice":false,"zero":false},"axis":null},
   "detail": {"field":"br"},
   "order": {"field":"k","type":"quantitative"}}},
 {"data": {"values": [{"g":"BMDM LPS","v":297,"t":"**"}]}, "mark": {"type":"text","fontSize":12,"baseline":"alphabetic","dx":31,"dy":3},
  "encoding": {"x": {"field":"g","type":"nominal","sort":null,"scale":{"type":"band","domain":["BMDM Control","BMDM LPS","BMDM+LEPC Control","BMDM+LEPC+LPS+IgG","BMDM+LEPC+LPS+IL25Ab"],"range":[348,525],"paddingInner":0.475,"paddingOuter":0.32},"axis":null},
   "y": {"field":"v","type":"quantitative","scale":{"domain":[0,300],"range":[503,382],"nice":false,"zero":false},"axis":null},"text":{"field":"t"}}},
 {"data": {"values": [{"g":"BMDM+LEPC+LPS+IgG","v":297,"t":"**"}]}, "mark": {"type":"text","fontSize":12,"baseline":"alphabetic","dx":18,"dy":3},
  "encoding": {"x": {"field":"g","type":"nominal","sort":null,"scale":{"type":"band","domain":["BMDM Control","BMDM LPS","BMDM+LEPC Control","BMDM+LEPC+LPS+IgG","BMDM+LEPC+LPS+IL25Ab"],"range":[348,525],"paddingInner":0.475,"paddingOuter":0.32},"axis":null},
   "y": {"field":"v","type":"quantitative","scale":{"domain":[0,300],"range":[503,382],"nice":false,"zero":false},"axis":null},"text":{"field":"t"}}},

 {"data": {"name":"barsC"}, "mark": {"type":"bar","color":"black"},
  "encoding": {
   "x": {"field":"g","type":"nominal","sort":null,"scale":{"type":"band","domain":["0","6","12","24"],"range":[584,723],"paddingInner":0.476,"paddingOuter":0.262},
     "axis":{"orient":"bottom","offset":-541,"labelAngle":0,"labelFontSize":14,"labelPadding":2,"tickSize":4,"tickWidth":1.5,"domainWidth":1.5,"title":null}},
   "y": {"field":"m","type":"quantitative","scale":{"domain":[0,25],"range":[229,77],"nice":false,"zero":false},
     "axis":{"orient":"left","offset":-584,"values":[0,5,10,15,20,25],"tickSize":4,"tickWidth":1.5,"domainWidth":1.5,"labelFontSize":14,"labelPadding":1,"title":"IL-25 mRNA fold induction","titleFontSize":13.5,"titlePadding":1}}}},
 {"data": {"name":"barsC"}, "mark": {"type":"rule","color":"black","strokeWidth":1.5},
  "encoding": {"x": {"field":"g","type":"nominal","sort":null,"scale":{"type":"band","domain":["0","6","12","24"],"range":[584,723],"paddingInner":0.476,"paddingOuter":0.262},"axis":null},
   "y": {"field":"m","type":"quantitative","scale":{"domain":[0,25],"range":[229,77],"nice":false,"zero":false},"axis":null},"y2":{"field":"hi"}}},
 {"data": {"name":"barsC"}, "mark": {"type":"tick","color":"black","thickness":1.5,"size":11,"orient":"horizontal"},
  "encoding": {"x": {"field":"g","type":"nominal","sort":null,"scale":{"type":"band","domain":["0","6","12","24"],"range":[584,723],"paddingInner":0.476,"paddingOuter":0.262},"axis":null},
   "y": {"field":"hi","type":"quantitative","scale":{"domain":[0,25],"range":[229,77],"nice":false,"zero":false},"axis":null}}},
 {"data": {"name":"barsC"}, "mark": {"type":"text","fontSize":12,"baseline":"alphabetic","dy":2},
  "encoding": {"x": {"field":"g","type":"nominal","sort":null,"scale":{"type":"band","domain":["0","6","12","24"],"range":[584,723],"paddingInner":0.476,"paddingOuter":0.262},"axis":null},
   "y": {"field":"hi","type":"quantitative","scale":{"domain":[0,25],"range":[229,77],"nice":false,"zero":false},"axis":null},"text":{"field":"sig"}}},
 {"data": {"name":"barsC"}, "mark": {"type":"point","opacity":0},
  "encoding": {"x": {"field":"g","type":"nominal","sort":null,"scale":{"type":"band","domain":["0","6","12","24"],"range":[593,715]},
     "axis":{"orient":"bottom","offset":-513,"labels":false,"ticks":false,"domain":true,"domainWidth":1.3,"title":"LPS (h)","titleFontSize":13,"titlePadding":3}}}},
 {"data": {"values": [{"t":"LEPC"}]}, "mark": {"type":"text","fontSize":12.5,"baseline":"middle","dx":-7},
  "encoding": {"x": {"datum":"6","type":"nominal","scale":{"type":"band","domain":["0","6","12","24"],"range":[584,723],"paddingInner":0.476,"paddingOuter":0.262},"axis":null},
   "y": {"datum":24,"type":"quantitative","scale":{"domain":[0,25],"range":[229,77],"nice":false,"zero":false},"axis":null},"text":{"field":"t"}}},
 {"data": {"values": [{"t":"c"}]}, "mark": {"type":"text","font":"Liberation Sans","fontWeight":"bold","fontSize":19,"align":"center","baseline":"middle","dx":-48},
  "encoding": {"x": {"datum":"0","type":"nominal","scale":{"type":"band","domain":["0","6","12","24"],"range":[584,723],"paddingInner":0.476,"paddingOuter":0.262},"axis":null},
   "y": {"datum":29,"type":"quantitative","scale":{"domain":[0,25],"range":[229,77],"nice":false,"zero":false},"axis":null},"text":{"field":"t"}}},

 {"data": {"name":"barsD"}, "mark": {"type":"bar","color":"black"},
  "encoding": {
   "x": {"field":"g","type":"nominal","sort":null,"scale":{"type":"band","domain":["0","6","12","24"],"range":[584,777],"paddingInner":0.586,"paddingOuter":0.29},
     "axis":{"orient":"bottom","offset":-267,"labelAngle":0,"labelFontSize":14,"labelPadding":2,"tickSize":4,"tickWidth":1.5,"domainWidth":1.5,"title":null}},
   "y": {"field":"m","type":"quantitative","scale":{"domain":[0,80],"range":[503,362],"nice":false,"zero":false},
     "axis":{"orient":"left","offset":-584,"values":[0,20,40,60,80],"tickSize":4,"tickWidth":1.5,"domainWidth":1.5,"labelFontSize":13.5,"labelPadding":1,"title":"IL-25 (pg/ml)","titleFontSize":13.5,"titlePadding":2}}}},
 {"data": {"name":"barsD"}, "mark": {"type":"rule","color":"black","strokeWidth":1.5},
  "encoding": {"x": {"field":"g","type":"nominal","sort":null,"scale":{"type":"band","domain":["0","6","12","24"],"range":[584,777],"paddingInner":0.586,"paddingOuter":0.29},"axis":null},
   "y": {"field":"m","type":"quantitative","scale":{"domain":[0,80],"range":[503,362],"nice":false,"zero":false},"axis":null},"y2":{"field":"hi"}}},
 {"data": {"name":"barsD"}, "mark": {"type":"tick","color":"black","thickness":1.5,"size":16,"orient":"horizontal"},
  "encoding": {"x": {"field":"g","type":"nominal","sort":null,"scale":{"type":"band","domain":["0","6","12","24"],"range":[584,777],"paddingInner":0.586,"paddingOuter":0.29},"axis":null},
   "y": {"field":"hi","type":"quantitative","scale":{"domain":[0,80],"range":[503,362],"nice":false,"zero":false},"axis":null}}},
 {"data": {"name":"barsD"}, "mark": {"type":"text","fontSize":12,"baseline":"alphabetic","dy":2},
  "encoding": {"x": {"field":"g","type":"nominal","sort":null,"scale":{"type":"band","domain":["0","6","12","24"],"range":[584,777],"paddingInner":0.586,"paddingOuter":0.29},"axis":null},
   "y": {"field":"hi","type":"quantitative","scale":{"domain":[0,80],"range":[503,362],"nice":false,"zero":false},"axis":null},"text":{"field":"sig"}}},
 {"data": {"name":"barsD"}, "mark": {"type":"point","opacity":0},
  "encoding": {"x": {"field":"g","type":"nominal","sort":null,"scale":{"type":"band","domain":["0","6","12","24"],"range":[591,777]},
     "axis":{"orient":"bottom","offset":-241,"labels":false,"ticks":false,"domain":true,"domainWidth":1.3,"title":"LPS (h)","titleFontSize":13,"titlePadding":3}}}},
 {"data": {"values": [{"t":"LEPC supernatant"}]}, "mark": {"type":"text","fontSize":12.5,"baseline":"middle","dx":7},
  "encoding": {"x": {"datum":"6","type":"nominal","scale":{"type":"band","domain":["0","6","12","24"],"range":[584,777],"paddingInner":0.586,"paddingOuter":0.29},"axis":null},
   "y": {"datum":76.6,"type":"quantitative","scale":{"domain":[0,80],"range":[503,362],"nice":false,"zero":false},"axis":null},"text":{"field":"t"}}},
 {"data": {"values": [{"t":"d"}]}, "mark": {"type":"text","font":"Liberation Sans","fontWeight":"bold","fontSize":19,"align":"center","baseline":"middle","dx":-56},
  "encoding": {"x": {"datum":"0","type":"nominal","scale":{"type":"band","domain":["0","6","12","24"],"range":[584,777],"paddingInner":0.586,"paddingOuter":0.29},"axis":null},
   "y": {"datum":88,"type":"quantitative","scale":{"domain":[0,80],"range":[503,362],"nice":false,"zero":false},"axis":null},"text":{"field":"t"}}},

 {"data": {"name":"histE"}, "transform":[{"filter":"datum.s === 'Control'"}], "mark": {"type":"area","fill":"#a3a3a3","fillOpacity":1,"line":{"color":"#4a4a4a","strokeWidth":0.8}},
  "encoding": {
   "x": {"field":"l","type":"quantitative","scale":{"domain":[0,4],"range":[82,189],"nice":false,"zero":false},
     "axis":{"orient":"bottom","offset":-36,"values":[0,1,2,3,4],"labelExpr":"['10⁰','10¹','10²','10³','10⁴'][datum.value]","tickSize":3,"labelFontSize":10,"labelPadding":3,"labelFlush":false,"labelOverlap":false,"domain":true,"domainColor":"#555","domainWidth":0.8,"title":null}},
   "y": {"field":"c","type":"quantitative","scale":{"domain":[0,100],"range":[734,632],"nice":false,"zero":false},
     "axis":{"orient":"left","offset":-81,"values":[0,20,40,60,80,100],"tickSize":3,"labelFontSize":10,"labelPadding":1,"domainDash":[1.5,1.5],"domainColor":"#777","title":null}}}},
 {"data": {"name":"histE"}, "transform":[{"filter":"datum.s === 'LPS'"}], "mark": {"type":"area","fill":"#f03c3c","fillOpacity":0.6,"line":{"color":"#e01818","strokeWidth":0.8}},
  "encoding": {"x": {"field":"l","type":"quantitative","scale":{"domain":[0,4],"range":[82,189],"nice":false,"zero":false},"axis":null},
   "y": {"field":"c","type":"quantitative","scale":{"domain":[0,100],"range":[734,632],"nice":false,"zero":false},"axis":null}}},
 {"data": {"name":"histE"}, "transform":[{"filter":"datum.s === 'PE-Isotype'"}], "mark": {"type":"line","color":"#222","strokeWidth":0.8,"strokeDash":[1.5,1.5]},
  "encoding": {"x": {"field":"l","type":"quantitative","scale":{"domain":[0,4],"range":[82,189],"nice":false,"zero":false},"axis":null},
   "y": {"field":"c","type":"quantitative","scale":{"domain":[0,100],"range":[734,632],"nice":false,"zero":false},"axis":null}}},
 {"data": {"values": [{"k":1}]}, "mark": {"type":"rule","color":"black","strokeWidth":1.5},
  "encoding": {"x": {"datum":-0.935,"type":"quantitative","scale":{"domain":[0,4],"range":[82,189],"nice":false,"zero":false},"axis":null},
   "y": {"datum":-20.6,"type":"quantitative","scale":{"domain":[0,100],"range":[734,632],"nice":false,"zero":false},"axis":null},"y2":{"datum":57}}},
 {"data": {"values": [{"k":1}]}, "mark": {"type":"point","shape":"triangle-up","filled":true,"color":"black","size":50,"opacity":1},
  "encoding": {"x": {"datum":-0.935,"type":"quantitative","scale":{"domain":[0,4],"range":[82,189],"nice":false,"zero":false},"axis":null},
   "y": {"datum":60,"type":"quantitative","scale":{"domain":[0,100],"range":[734,632],"nice":false,"zero":false},"axis":null}}},
 {"data": {"values": [{"k":1}]}, "mark": {"type":"rule","color":"black","strokeWidth":1.5},
  "encoding": {"x": {"datum":-0.935,"type":"quantitative","scale":{"domain":[0,4],"range":[82,189],"nice":false,"zero":false},
     "axis":{"orient":"bottom","offset":-36,"values":[0.301,0.477,0.602,0.699,0.778,0.845,0.903,0.954,1.301,1.477,1.602,1.699,1.778,1.845,1.903,1.954,2.301,2.477,2.602,2.699,2.778,2.845,2.903,2.954,3.301,3.477,3.602,3.699,3.778,3.845,3.903,3.954],"labels":false,"tickSize":2,"domain":false,"title":null}},
   "x2": {"datum":3.05},
   "y": {"datum":-20.6,"type":"quantitative","scale":{"domain":[0,100],"range":[734,632],"nice":false,"zero":false},"axis":null}}},
 {"data": {"values": [{"k":1}]}, "mark": {"type":"point","shape":"triangle-right","filled":true,"color":"black","size":50,"opacity":1},
  "encoding": {"x": {"datum":3.12,"type":"quantitative","scale":{"domain":[0,4],"range":[82,189],"nice":false,"zero":false},"axis":null},
   "y": {"datum":-20.6,"type":"quantitative","scale":{"domain":[0,100],"range":[734,632],"nice":false,"zero":false},"axis":null}}},
 {"data": {"values": [{"t":"% of Max"}]}, "mark": {"type":"text","fontSize":13,"angle":270,"align":"center","baseline":"middle"},
  "encoding": {"x": {"datum":-1.2,"type":"quantitative","scale":{"domain":[0,4],"range":[82,189],"nice":false,"zero":false},"axis":null},
   "y": {"datum":16,"type":"quantitative","scale":{"domain":[0,100],"range":[734,632],"nice":false,"zero":false},"axis":null},"text":{"field":"t"}}},
 {"data": {"values": [{"t":"PE-IL25R"}]}, "mark": {"type":"text","fontSize":12.5,"align":"center","baseline":"middle"},
  "encoding": {"x": {"datum":1.16,"type":"quantitative","scale":{"domain":[0,4],"range":[82,189],"nice":false,"zero":false},"axis":null},
   "y": {"datum":-28,"type":"quantitative","scale":{"domain":[0,100],"range":[734,632],"nice":false,"zero":false},"axis":null},"text":{"field":"t"}}},
 {"data": {"values": [{"t":"BMDM"}]}, "mark": {"type":"text","fontSize":13.5,"align":"center","baseline":"middle"},
  "encoding": {"x": {"datum":1.31,"type":"quantitative","scale":{"domain":[0,4],"range":[82,189],"nice":false,"zero":false},"axis":null},
   "y": {"datum":100,"type":"quantitative","scale":{"domain":[0,100],"range":[734,632],"nice":false,"zero":false},"axis":null},"text":{"field":"t"}}},
 {"data": {"values": [{"t":"e"}]}, "mark": {"type":"text","font":"Liberation Sans","fontWeight":"bold","fontSize":19,"align":"center","baseline":"middle"},
  "encoding": {"x": {"datum":-1.12,"type":"quantitative","scale":{"domain":[0,4],"range":[82,189],"nice":false,"zero":false},"axis":null},
   "y": {"datum":118.6,"type":"quantitative","scale":{"domain":[0,100],"range":[734,632],"nice":false,"zero":false},"axis":null},"text":{"field":"t"}}},
 {"data": {"name":"legE"}, "mark": {"type":"point","shape":"square","filled":true,"size":100,"strokeWidth":1,"opacity":1},
  "encoding": {"x": {"datum":3.14,"type":"quantitative","scale":{"domain":[0,4],"range":[82,189],"nice":false,"zero":false},"axis":null},
   "y": {"field":"s","type":"nominal","scale":{"type":"point","domain":["PE-Isotype","Control","LPS"],"range":[632,662],"padding":0},"axis":null},
   "fill": {"field":"s","type":"nominal","scale":{"domain":["PE-Isotype","Control","LPS"],"range":["#ffffff","#b4b4b4","#f48a8a"]},"legend":null},
   "stroke": {"field":"s","type":"nominal","scale":{"domain":["PE-Isotype","Control","LPS"],"range":["#333333","#555555","#e02020"]},"legend":null},
   "strokeDash": {"field":"s","type":"nominal","scale":{"domain":["PE-Isotype","Control","LPS"],"range":[[2,1.5],[1,0],[1,0]]},"legend":null}}},
 {"data": {"name":"legE"}, "mark": {"type":"text","fontSize":11.5,"align":"left","baseline":"middle"},
  "encoding": {"x": {"datum":3.46,"type":"quantitative","scale":{"domain":[0,4],"range":[82,189],"nice":false,"zero":false},"axis":null},
   "y": {"field":"s","type":"nominal","scale":{"type":"point","domain":["PE-Isotype","Control","LPS"],"range":[632,662],"padding":0},"axis":null},
   "text": {"field":"s"}}},

 {"data": {"name":"barsE"}, "mark": {"type":"bar","color":"black"},
  "encoding": {
   "x": {"field":"g","type":"nominal","sort":null,"scale":{"type":"band","domain":["Control","LPS"],"range":[322,433],"paddingInner":0.49,"paddingOuter":0.292},
     "axis":{"orient":"bottom","offset":-22,"labelAngle":0,"labelFontSize":13.5,"labelPadding":2,"tickSize":4,"tickWidth":1.5,"domainWidth":1.5,"title":null}},
   "y": {"field":"m","type":"quantitative","scale":{"domain":[0,100],"range":[748,623],"nice":false,"zero":false},
     "axis":{"orient":"left","offset":-322,"values":[0,20,40,60,80,100],"tickSize":4,"tickWidth":1.5,"domainWidth":1.5,"labelFontSize":13.5,"labelPadding":1,"title":"MFI","titleFontSize":13,"titlePadding":4}}}},
 {"data": {"name":"barsE"}, "mark": {"type":"rule","color":"black","strokeWidth":1.5},
  "encoding": {"x": {"field":"g","type":"nominal","sort":null,"scale":{"type":"band","domain":["Control","LPS"],"range":[322,433],"paddingInner":0.49,"paddingOuter":0.292},"axis":null},
   "y": {"field":"m","type":"quantitative","scale":{"domain":[0,100],"range":[748,623],"nice":false,"zero":false},"axis":null},"y2":{"field":"hi"}}},
 {"data": {"name":"barsE"}, "mark": {"type":"tick","color":"black","thickness":1.5,"size":15,"orient":"horizontal"},
  "encoding": {"x": {"field":"g","type":"nominal","sort":null,"scale":{"type":"band","domain":["Control","LPS"],"range":[322,433],"paddingInner":0.49,"paddingOuter":0.292},"axis":null},
   "y": {"field":"hi","type":"quantitative","scale":{"domain":[0,100],"range":[748,623],"nice":false,"zero":false},"axis":null}}},
 {"data": {"name":"barsE"}, "mark": {"type":"text","fontSize":12,"baseline":"alphabetic","dy":2},
  "encoding": {"x": {"field":"g","type":"nominal","sort":null,"scale":{"type":"band","domain":["Control","LPS"],"range":[322,433],"paddingInner":0.49,"paddingOuter":0.292},"axis":null},
   "y": {"field":"hi","type":"quantitative","scale":{"domain":[0,100],"range":[748,623],"nice":false,"zero":false},"axis":null},"text":{"field":"sig"}}}
]
}
